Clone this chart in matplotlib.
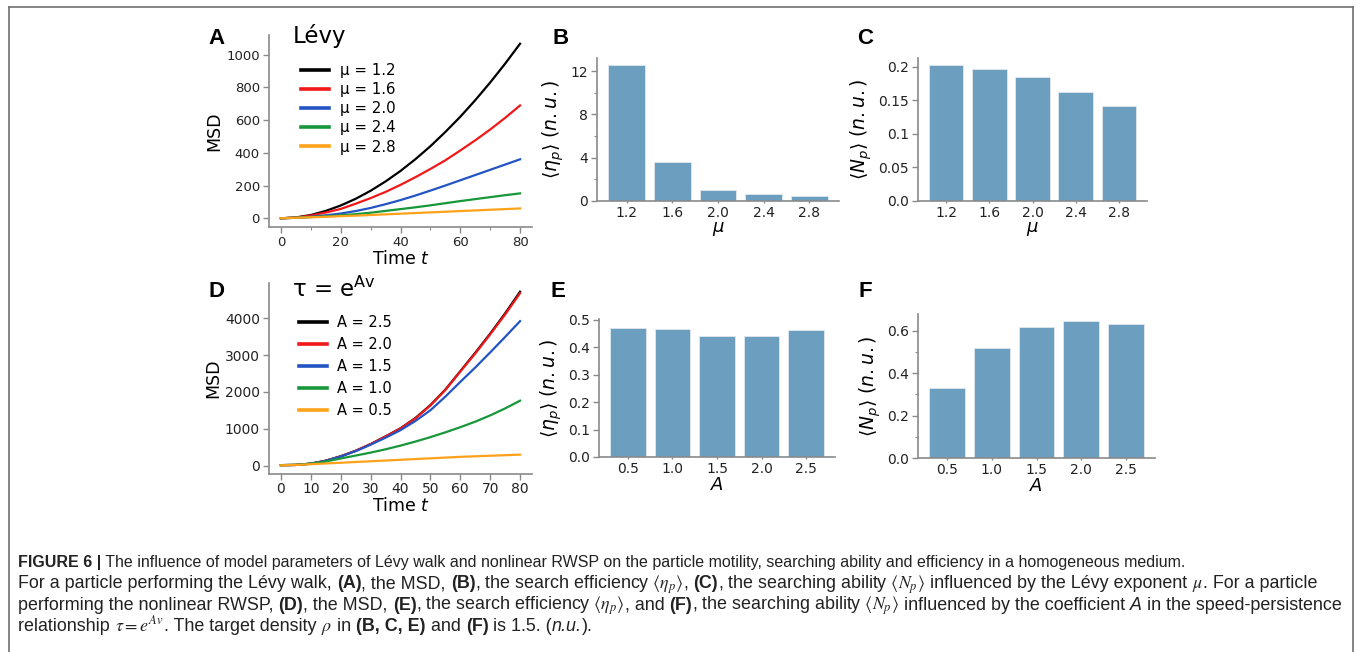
"""
Figure 6 — Lévy walk vs nonlinear RWSP: MSD curves and search efficiency/ability bars.
"""
import numpy as np
import matplotlib
matplotlib.use("Agg")
import matplotlib.pyplot as plt
from matplotlib.ticker import MultipleLocator
from matplotlib.lines import Line2D

plt.rcParams["font.family"] = ["DejaVu Sans"]
plt.rcParams["mathtext.fontset"] = "dejavusans"

# ---- data -----------------------------------------------------------------
time_t = [0, 5, 10, 15, 20, 25, 30, 35, 40, 45, 50, 55, 60, 65, 70, 75, 80]

# panel A: Lévy walk MSD
mu_labels = ["μ = 1.2", "μ = 1.6", "μ = 2.0", "μ = 2.4", "μ = 2.8"]
msd_mu12 = [1, 6, 21, 46, 79, 120, 169, 226, 290, 362, 441, 528, 621, 722, 830, 945, 1067]
msd_mu16 = [1, 5, 18, 36, 58, 90, 124, 162, 205, 252, 302, 355, 415, 477, 543, 614, 690]
msd_mu20 = [1, 4, 10, 19, 30, 45, 64, 87, 112, 140, 170, 201, 233, 265, 297, 329, 361]
msd_mu24 = [1, 4, 8, 13, 19, 26, 35, 46, 57, 68, 80, 93, 106, 118, 130, 142, 153]
msd_mu28 = [1, 4, 7, 10, 14, 17, 21, 25, 29, 33, 37, 41, 45, 49, 53, 57, 61]

# panel D: nonlinear RWSP MSD
a_labels = ["A = 2.5", "A = 2.0", "A = 1.5", "A = 1.0", "A = 0.5"]
msd_a25 = [10, 15, 50, 130, 250, 400, 580, 790, 1010, 1290, 1640, 2060, 2560, 3060, 3580, 4130, 4720]
msd_a20 = [10, 15, 50, 130, 250, 400, 580, 790, 1005, 1280, 1630, 2050, 2550, 3040, 3560, 4100, 4680]
msd_a15 = [10, 15, 50, 128, 245, 390, 565, 755, 960, 1210, 1500, 1870, 2270, 2660, 3070, 3490, 3920]
msd_a10 = [10, 20, 50, 110, 190, 270, 350, 440, 540, 650, 770, 900, 1040, 1190, 1360, 1550, 1760]
msd_a05 = [5, 15, 35, 55, 75, 95, 115, 135, 155, 175, 195, 215, 235, 250, 265, 280, 295]

# bar panels
mu_cats = ["1.2", "1.6", "2.0", "2.4", "2.8"]
eta_mu = [12.58, 3.56, 0.98, 0.61, 0.49]
np_mu = [0.203, 0.197, 0.185, 0.163, 0.142]
a_cats = ["0.5", "1.0", "1.5", "2.0", "2.5"]
eta_a = [0.468, 0.464, 0.441, 0.441, 0.463]
np_a = [0.329, 0.519, 0.619, 0.646, 0.633]

LINE_COLORS = ["black", "#f01818", "#2354c4", "#18973a", "#ffa21a"]
BAR_COLOR = "#6c9ebf"
SPINE = "#8a8a8a"

W, H = 1356, 652


def px_axes(fig, left, top, right, bottom):
    """Axes from pixel box (top-left origin)."""
    return fig.add_axes([left / W, 1 - bottom / H, (right - left) / W, (bottom - top) / H])


def style(ax, tick_size):
    for s in ("top", "right"):
        ax.spines[s].set_visible(False)
    for s in ("left", "bottom"):
        ax.spines[s].set_color(SPINE)
        ax.spines[s].set_linewidth(1.2)
    ax.tick_params(which="major", length=4, width=1, color=SPINE, pad=2.5,
                   labelsize=tick_size, labelcolor="#222222")
    ax.tick_params(which="minor", length=2.5, width=0.8, color=SPINE)


def msd_panel(ax, series, labels, xtick, tick_size, leg_size, leg_xy, leg_space, minor_x=None):
    for vals, lab, c in zip(series, labels, LINE_COLORS):
        ax.plot(time_t, vals, color=c, lw=1.6, label=lab)
    style(ax, tick_size)
    ax.xaxis.set_major_locator(MultipleLocator(xtick))
    if minor_x:
        ax.xaxis.set_minor_locator(MultipleLocator(minor_x))
    ax.set_xlabel("Time $t$", fontsize=12.5, labelpad=1)
    ax.set_ylabel("MSD", fontsize=12.5, labelpad=2)
    leg = ax.legend(loc="upper left", bbox_to_anchor=leg_xy, frameon=False,
                    fontsize=leg_size, handlelength=1.9, handletextpad=0.7,
                    labelspacing=leg_space, borderaxespad=0, borderpad=0)
    for h in leg.legend_handles:
        h.set_linewidth(2.6)


def bar_panel(ax, cats, vals, ylabel, xlabel, ytick, yfmt=None, minor_y=None, ytop=None):
    x = np.arange(len(cats))
    ax.bar(x, vals, width=0.8, color=BAR_COLOR, edgecolor="#dfe8ef", linewidth=0.6)
    ax.set_xticks(x, cats)
    ax.set_xlim(-0.65, len(cats) - 0.35)
    if ytop is not None:
        ax.set_ylim(0, ytop)
    style(ax, 10)
    ax.tick_params(axis="x", length=1.5, pad=2)
    ax.yaxis.set_major_locator(MultipleLocator(ytick))
    if minor_y:
        ax.yaxis.set_minor_locator(MultipleLocator(minor_y))
    if yfmt:
        ax.yaxis.set_major_formatter(plt.FuncFormatter(yfmt))
    ax.set_ylabel(ylabel, fontsize=13.5, labelpad=3)
    ax.set_xlabel(xlabel, fontsize=13, labelpad=0)


def fmt_short(v, _=0):
    s = f"{v:.2f}".rstrip("0")
    if s.endswith("."):
        s += "0"
    return s


fig = plt.figure(figsize=(W / 100, H / 100), dpi=100)

# A
axA = px_axes(fig, 269, 35, 532, 227)
msd_panel(axA, [msd_mu12, msd_mu16, msd_mu20, msd_mu24, msd_mu28], mu_labels,
          20, 9.5, 10.8, (0.12, 0.855), 0.28, minor_x=10)
axA.yaxis.set_major_locator(MultipleLocator(200))

# D
axD = px_axes(fig, 269, 283, 532, 474)
msd_panel(axD, [msd_a25, msd_a20, msd_a15, msd_a10, msd_a05], a_labels,
          10, 10, 10.5, (0.115, 0.83), 0.48)
axD.yaxis.set_major_locator(MultipleLocator(1000))
axD.tick_params(axis="x", pad=1.5)

# B, C, E, F
eta_lab = r"$\langle\eta_p\rangle\ (n.u.)$"
np_lab = r"$\langle N_p\rangle\ (n.u.)$"
axB = px_axes(fig, 597, 58, 839, 201)
bar_panel(axB, mu_cats, eta_mu, eta_lab, r"$\mu$", 4, minor_y=2)
axC = px_axes(fig, 918, 58, 1147, 201)
bar_panel(axC, mu_cats, np_mu, np_lab, r"$\mu$", 0.05, yfmt=fmt_short)
axE = px_axes(fig, 599, 319, 835, 457)
bar_panel(axE, a_cats, eta_a, eta_lab, r"$A$", 0.1, yfmt=lambda v, _: f"{v:.1f}", ytop=0.502)
axF = px_axes(fig, 918, 314, 1155, 458)
bar_panel(axF, a_cats, np_a, np_lab, r"$A$", 0.2, yfmt=lambda v, _: f"{v:.1f}", minor_y=0.1)

# panel letters + titles
for lab, x, y in [("A", 208, 44), ("B", 552, 44), ("C", 857, 44),
                  ("D", 208, 297), ("E", 551, 297), ("F", 858, 297)]:
    fig.text(x / W, 1 - y / H, lab, fontsize=16, weight="bold",
             family="Liberation Sans", va="baseline")
fig.text(293 / W, 1 - 43.5 / H, "Lévy", fontsize=16.5, va="baseline")
fig.text(292 / W, 1 - 297 / H, r"τ = e$^{\mathregular{Av}}$", fontsize=16.5, va="baseline")

# outer frame (open at the bottom)
for xs, ys in [([8.5, 8.5], [H, 6.5]), ([8.5, 1352.5], [6.5, 6.5]), ([1352.5, 1352.5], [6.5, H])]:
    fig.add_artist(Line2D([x / W for x in xs], [1 - y / H for y in ys],
                          color="#707070", lw=1.2))

# caption, drawn piece by piece so bold parts can sit inline
rend = fig.canvas.get_renderer()


def caption_line(y_px, parts, size):
    x = 18 / W
    for part in parts:
        s, w = part[0], part[1]
        st = part[2] if len(part) > 2 else "normal"
        t = fig.text(x, 1 - y_px / H, s, fontsize=size, weight=w, style=st,
                     family="Liberation Sans", color="#222222", va="baseline",
                     math_fontfamily="stix")
        x += t.get_window_extent(renderer=rend).width / W


N, B = "normal", "bold"
caption_line(566.7, [("FIGURE 6 |", B),
                     (" The influence of model parameters of Lévy walk and nonlinear RWSP on the "
                      "particle motility, searching ability and efficiency in a homogeneous medium.", N)],
             11.5)
caption_line(588.3, [("For a particle performing the Lévy walk, ", N), ("(A)", B),
                     (", the MSD, ", N), ("(B)", B),
                     (r", the search efficiency $\langle\eta_p\rangle$", N), (", ", N), ("(C)", B),
                     (r", the searching ability $\langle N_p\rangle$", N),
                     (" influenced by the Lévy exponent ", N), (r"$\mu$", N),
                     (". For a particle", N)], 12.9)
caption_line(609.8, [("performing the nonlinear RWSP, ", N), ("(D)", B),
                     (", the MSD, ", N), ("(E)", B),
                     (r", the search efficiency $\langle\eta_p\rangle$", N), (", and ", N), ("(F)", B),
                     (r", the searching ability $\langle N_p\rangle$", N),
                     (" influenced by the coefficient ", N), ("A", N, "italic"),
                     (" in the speed-persistence", N)], 12.9)
caption_line(631.3, [("relationship ", N), (r"$\tau = e^{Av}$", N), (". The target density ", N),
                     (r"$\rho$", N), (" in ", N),
                     ("(B, C, E)", B), (" and ", N), ("(F)", B),
                     (" is 1.5. (", N), ("n.u.", N, "italic"), (").", N)], 12.9)

fig.savefig("out.png", dpi=100)
